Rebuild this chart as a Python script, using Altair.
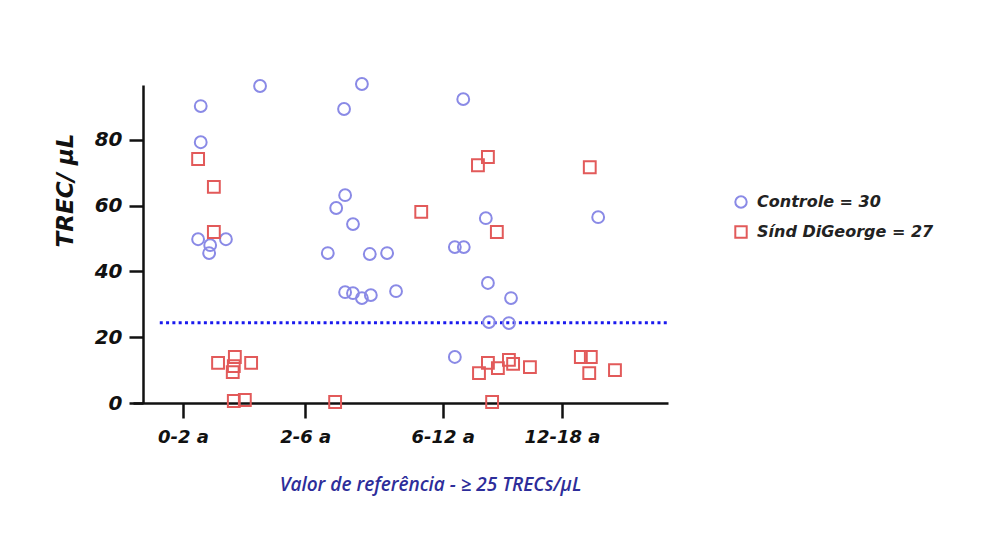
import altair as alt
import pandas as pd

# x positions are along a continuous age-position scale (0-100), y = TREC/uL
ctrl_x = [11.0, 22.3, 11.0, 10.5, 12.8, 12.6, 15.8,
          41.7, 38.3, 38.5, 36.8, 40.0, 35.2, 43.2, 46.5, 38.5, 40.0, 41.7, 43.4, 48.2,
          61.0, 65.3, 59.4, 61.1, 65.7, 70.1, 65.9, 69.7, 59.4,
          86.7]
ctrl_y = [90.3, 96.4, 79.3, 49.8, 48.0, 45.6, 49.8,
          97.0, 89.4, 63.2, 59.3, 54.4, 45.6, 45.3, 45.6, 33.7, 33.4, 31.9, 32.8, 34.0,
          92.4, 56.2, 47.4, 47.4, 36.5, 31.9, 24.6, 24.3, 14.0,
          56.5]
dg_x = [10.5, 13.5, 13.5, 14.3, 17.5, 17.3, 17.1, 20.6, 17.3, 19.4,
        36.6, 53.0,
        63.8, 65.7, 67.4, 64.0, 65.7, 67.6, 69.7, 70.5, 66.5, 73.7,
        85.1, 83.4, 85.3, 85.0, 89.9]
dg_y = [74.2, 65.7, 52.0, 12.2, 14.0, 11.2, 9.4, 12.2, 0.6, 0.9,
        0.3, 58.1,
        72.3, 74.8, 52.0, 9.1, 12.2, 10.6, 13.1, 11.9, 0.3, 10.9,
        71.7, 14.0, 14.0, 9.1, 10.0]

group_names = ["Controle = 30", "Sínd DiGeorge = 27"]
group_colors = ["#8a8ae6", "#e25a5a"]
group_shapes = ["circle", "square"]

tick_pos = [7.6, 30.9, 57.1, 79.8]
tick_labels = ["0-2 a", "2-6 a", "6-12 a", "12-18 a"]
y_ticks = [0, 20, 40, 60, 80]

ref_value = [24.4]
ref_x = [3.2]
ref_x2 = [100]

points = pd.DataFrame({
    "x": ctrl_x + dg_x,
    "y": ctrl_y + dg_y,
    "grupo": [group_names[0]] * len(ctrl_x) + [group_names[1]] * len(dg_x),
})
ref = pd.DataFrame({"x": ref_x, "x2": ref_x2, "y": ref_value})

label_map = "{" + ",".join(f"'{p}':'{l}'" for p, l in zip(tick_pos, tick_labels)) + "}"

xscale = alt.Scale(domain=[-1.9, 100], nice=False, zero=False)
yscale = alt.Scale(domain=[0, 96.7], nice=False)

font = "DejaVu Sans"

pts = alt.Chart(points).mark_point(filled=False, strokeWidth=2, size=140, opacity=1).encode(
    x=alt.X("x:Q", scale=xscale,
            axis=alt.Axis(values=tick_pos, labelExpr=f"{label_map}[datum.value]",
                          title=None, grid=False, domainColor="#111", domainWidth=2.5,
                          tickColor="#111", tickWidth=2.5, tickSize=15,
                          labelFont=font, labelFontSize=18, labelFontWeight="bold",
                          labelFontStyle="italic", labelColor="#111", labelPadding=10,
                          labelFlush=False)),
    y=alt.Y("y:Q", scale=yscale,
            axis=alt.Axis(values=y_ticks, title="TREC/ µL", grid=False, offset=-10,
                          domainColor="#111", domainWidth=2.5, tickColor="#111",
                          tickWidth=2.5, tickSize=14, labelFont=font, labelFontSize=20,
                          labelFontWeight="bold", labelFontStyle="italic",
                          labelColor="#111", labelPadding=7,
                          titleFont=font, titleFontSize=23, titleFontWeight="bold",
                          titleFontStyle="italic", titleColor="#111",
                          titleX=-78, titleY=105, titleAngle=270, titleAlign="center",
                          titleBaseline="middle")),
    color=alt.Color("grupo:N", scale=alt.Scale(domain=group_names, range=group_colors),
                    legend=alt.Legend(title=None, orient="none", legendX=600, legendY=109,
                                      labelFont=font, labelFontSize=16,
                                      labelFontWeight="bold", labelFontStyle="italic",
                                      labelColor="#222", symbolSize=130,
                                      symbolStrokeWidth=2, rowPadding=10,
                                      labelOffset=8, labelLimit=400)),
    shape=alt.Shape("grupo:N", scale=alt.Scale(domain=group_names, range=group_shapes)),
)

line = alt.Chart(ref).mark_rule(color="#1a1aee", strokeWidth=3.2, strokeDash=[3, 3.3]).encode(
    x=alt.X("x:Q", scale=xscale), x2="x2:Q", y=alt.Y("y:Q", scale=yscale)
)

chart = alt.layer(line, pts).properties(
    width=535, height=318,
    autosize=alt.AutoSizeParams(type="none"),
    padding={"left": 125, "top": 77, "right": 306, "bottom": 145},
    title=alt.TitleParams("Valor de referência - ≥ 25 TRECs/µL", orient="bottom",
                          font="Open Sans", fontSize=19, fontStyle="italic",
                          fontWeight=600, color="#2d2d9a", offset=30, dx=30),
).configure(background="white", view=alt.ViewConfig(strokeWidth=0))

chart.save("out.html", embed_options={"renderer": "svg", "actions": False})
